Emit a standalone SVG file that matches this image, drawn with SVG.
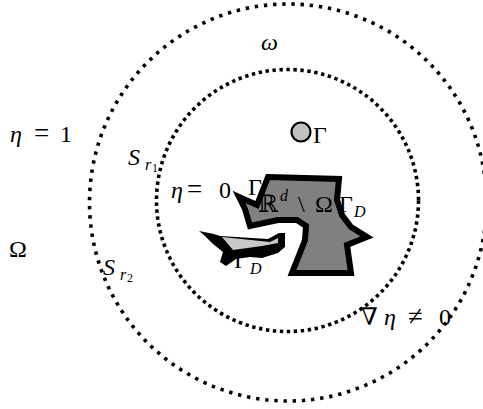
<svg xmlns="http://www.w3.org/2000/svg" width="483" height="409" viewBox="0 0 483 409">
<style>
.t{font-family:"Liberation Serif","DejaVu Serif",serif;font-size:24px;fill:#000}
.i{font-style:italic}
.s{font-size:16px}
.ss{font-size:12px}
.eq{font-size:27px}
.dot{fill:none;stroke:#000;stroke-width:3.6}
</style>
<rect width="483" height="409" fill="#fff"/>
<g id="connectors"></g>
<g id="outer-circle"><circle class="dot" cx="288" cy="202.5" r="198.5" stroke-dasharray="3.4 5.8"/></g>
<g id="inner-circle"><circle class="dot" cx="287.5" cy="200.5" r="131" stroke-dasharray="3.4 3.6"/></g>
<g id="big-shape">
<polygon points="268,177 339,179 337,200 342,215 351,227 367,237 347,245 351,273 292,273 305,240 306,226 297,220 278,220 250,226 245,209 239,197 257,205" fill="#808080" stroke="#000" stroke-width="6" stroke-linejoin="miter"/>
</g>
<g id="small-shape">
<polygon points="199,231 214,234 220,236 268,239 279,233 285,233 285,247 278,253 262,258 250,257 236,259 226,266 220,262 223,252 213,244 205,236" fill="#000"/>
<polygon points="222,237 270,242 278,238 278,243 262,246 233,250" fill="#c8c8c8"/>
</g>
<g id="gamma-point">
<circle cx="301" cy="132" r="9.5" fill="#c0c0c0" stroke="#000" stroke-width="2.2"/>
<text class="t" x="313" y="143">Γ</text>
</g>
<g id="labels">
<text class="t i" x="261" y="50">ω</text>
<text class="t" y="142"><tspan class="i" x="10">η</tspan><tspan class="eq" x="34">=</tspan><tspan x="60">1</tspan></text>
<text class="t" y="165"><tspan class="i" x="128">S</tspan><tspan class="s i" x="145" y="170">r</tspan><tspan class="ss" x="152" y="172">1</tspan></text>
<text class="t" x="9" y="257">Ω</text>
<text class="t" y="275"><tspan class="i" x="103">S</tspan><tspan class="s i" x="120" y="280">r</tspan><tspan class="ss" x="127" y="282">2</tspan></text>
<text class="t" y="198"><tspan class="i" x="171">η</tspan><tspan class="eq" x="187">=</tspan><tspan x="219">0</tspan></text>
<text class="t" x="248" y="195">Γ</text>
<text class="t" x="258" y="212">ℝ</text>
<text class="t i s" x="280" y="201">d</text>
<text class="t" x="298" y="212">\</text>
<text class="t" x="315" y="212">Ω</text>
<text class="t" x="339" y="212">Γ</text>
<text class="t i s" x="354" y="217">D</text>
<text class="t" x="234" y="268">Γ</text>
<text class="t i s" x="250" y="274">D</text>
<text class="t" y="325"><tspan x="361">∇</tspan><tspan class="i" x="384">η</tspan><tspan class="eq" x="408">≠</tspan><tspan x="439">0</tspan></text>
</g>
</svg>
